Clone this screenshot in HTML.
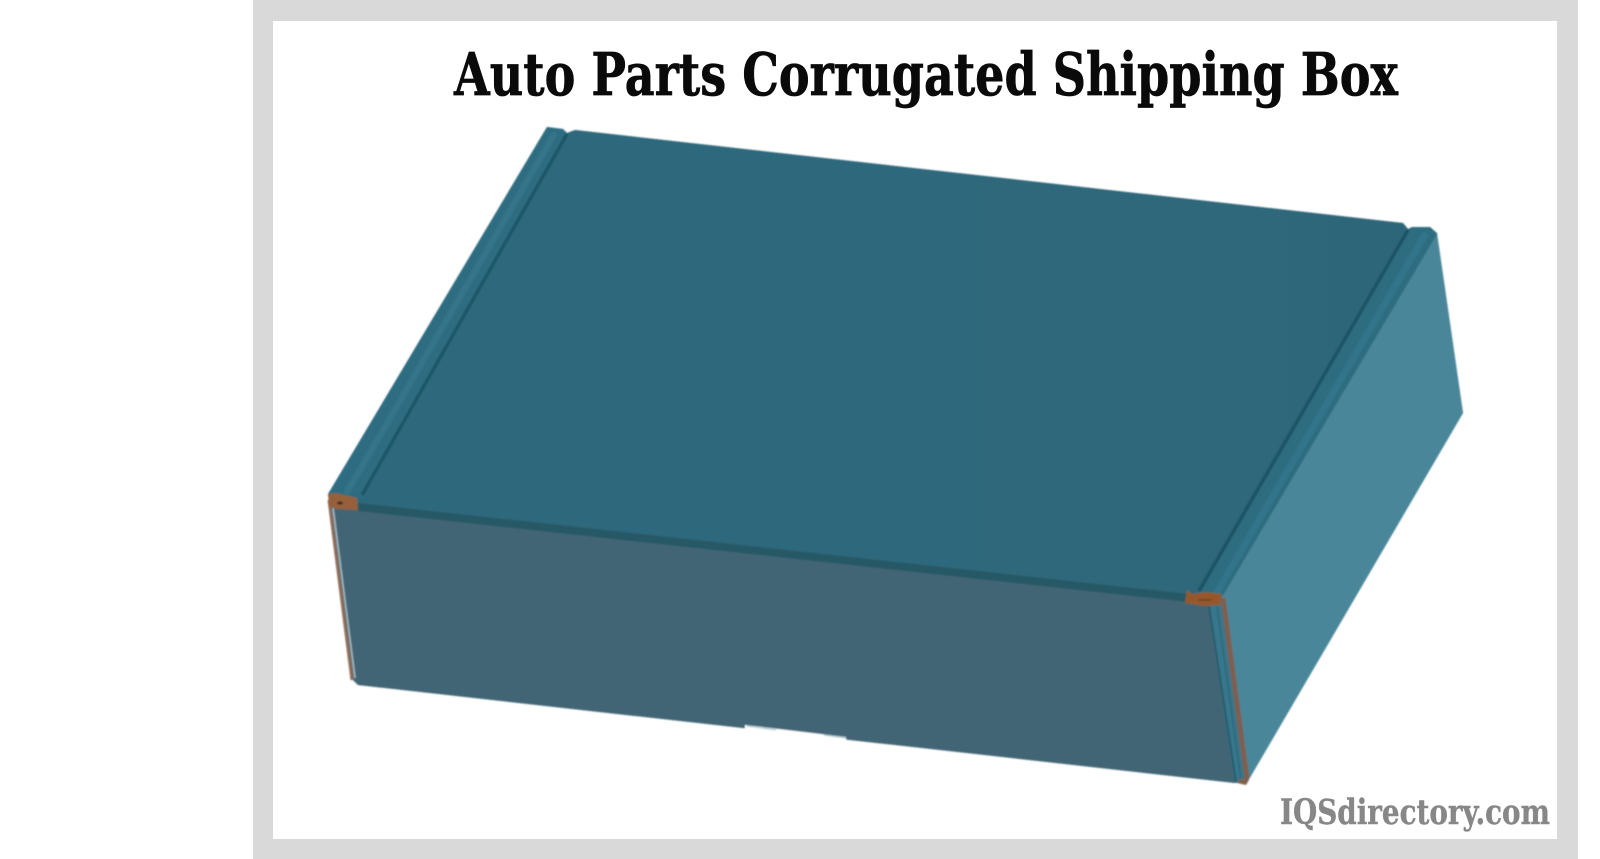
<!DOCTYPE html>
<html><head><meta charset="utf-8"><style>
html,body{margin:0;padding:0;background:#fff;width:1600px;height:859px;overflow:hidden}
svg{display:block}
</style></head><body>
<svg width="1600" height="859" viewBox="0 0 1600 859" xmlns="http://www.w3.org/2000/svg">
<defs>
<filter id="b" x="-5%" y="-5%" width="110%" height="110%"><feGaussianBlur stdDeviation="0.7"/></filter>
<linearGradient id="top" x1="0" y1="0" x2="1" y2="0"><stop offset="0" stop-color="#2f687c"/><stop offset="1" stop-color="#2d6679"/></linearGradient>
</defs>
<rect x="253" y="0" width="1325" height="859" fill="#d9d9d9"/>
<rect x="273" y="21" width="1284" height="818" fill="#fff"/>
<g filter="url(#b)">
<!-- silhouette underlay -->
<polygon points="547,127 563,129 567,133 575,130 1403,223 1408,229 1412,227 1430,227 1437,233 1463,413 1248,781 1235,783 358,685 353,680 328,494" fill="#2e6a7e"/>
<!-- side panel -->
<polygon points="1437,234 1463,413 1248,781 1222,597" fill="#4a8699"/>
<!-- left flap -->
<polygon points="547,127 563,129 567,133 362,495 328,494" fill="#2e6d81"/>
<polyline points="555,133 346,494" fill="none" stroke="#347589" stroke-width="6"/>
<!-- right flap -->
<polygon points="1412,227 1430,227 1437,234 1222,597 1198,592" fill="#2e6c80"/>
<polyline points="1426,233 1216,594" fill="none" stroke="#33748a" stroke-width="7"/>
<!-- main top -->
<polygon points="575,130 1403,223 1408,229 1198,592 1188,596 358,506 362,495 567,133" fill="url(#top)"/>
<!-- grooves -->
<polyline points="567,134 362,495" fill="none" stroke="#1f5668" stroke-width="3.5"/>
<polyline points="1408,230 1199,591" fill="none" stroke="#1d5365" stroke-width="3.5"/>
<!-- front panel -->
<polygon points="332,505 358,507 1188,600 1209,604 1235,783 358,685 353,680" fill="#426575"/>
<!-- dark band -->
<polygon points="358,503 1188,594 1188,602 358,511" fill="#265866"/>
<!-- front right strip -->
<polygon points="1208,604 1222,597 1246,781 1235,783" fill="#37768b"/>
<polyline points="1209,606 1236,782" fill="none" stroke="#1f5a6c" stroke-width="1.6"/>
<polyline points="1217,606 1241,780" fill="none" stroke="#2a6578" stroke-width="1.2"/>
<polyline points="1223,598 1247,779" fill="none" stroke="#7f5f50" stroke-width="5"/>
<polygon points="1241,778 1249,780 1246,785 1237,783" fill="#80604e"/>
<!-- front left edge -->
<polyline points="329,500 352,680" fill="none" stroke="#8f6c58" stroke-width="3"/>
<polyline points="333,508 355,678" fill="none" stroke="#aec3c9" stroke-width="1.4"/>
<!-- corners -->
<polygon points="328,494 336,493 357,498 358,510 336,509 329,506" fill="#96603a"/>
<ellipse cx="340" cy="503" rx="3" ry="1.5" fill="#3b2a1c"/>
<polygon points="1187,590 1192,594 1206,592 1222,594 1220,605 1205,606 1185,603" fill="#96592c"/>
<polyline points="1198,600 1212,600" fill="none" stroke="#5c3a1c" stroke-width="1.2"/>
<!-- notch -->
<polygon points="745,725 846,737 846,743 745,731" fill="#fff"/>
<polyline points="747,726 776,730" fill="none" stroke="#a8c8cf" stroke-width="1.2"/>
<polyline points="824,735 846,738" fill="none" stroke="#a8c8cf" stroke-width="1.2"/>
</g>
<text x="454" y="95" font-family="'DejaVu Serif',serif" font-weight="700" font-size="59" fill="#0a0a0a" stroke="#0a0a0a" stroke-width="0.7" textLength="944" lengthAdjust="spacingAndGlyphs">Auto Parts Corrugated Shipping Box</text>
<text x="1280" y="824" font-family="'DejaVu Serif',serif" font-weight="700" font-size="35" fill="#878787" stroke="#878787" stroke-width="0.4" textLength="270" lengthAdjust="spacingAndGlyphs">IQSdirectory.com</text>
</svg>
</body></html>
